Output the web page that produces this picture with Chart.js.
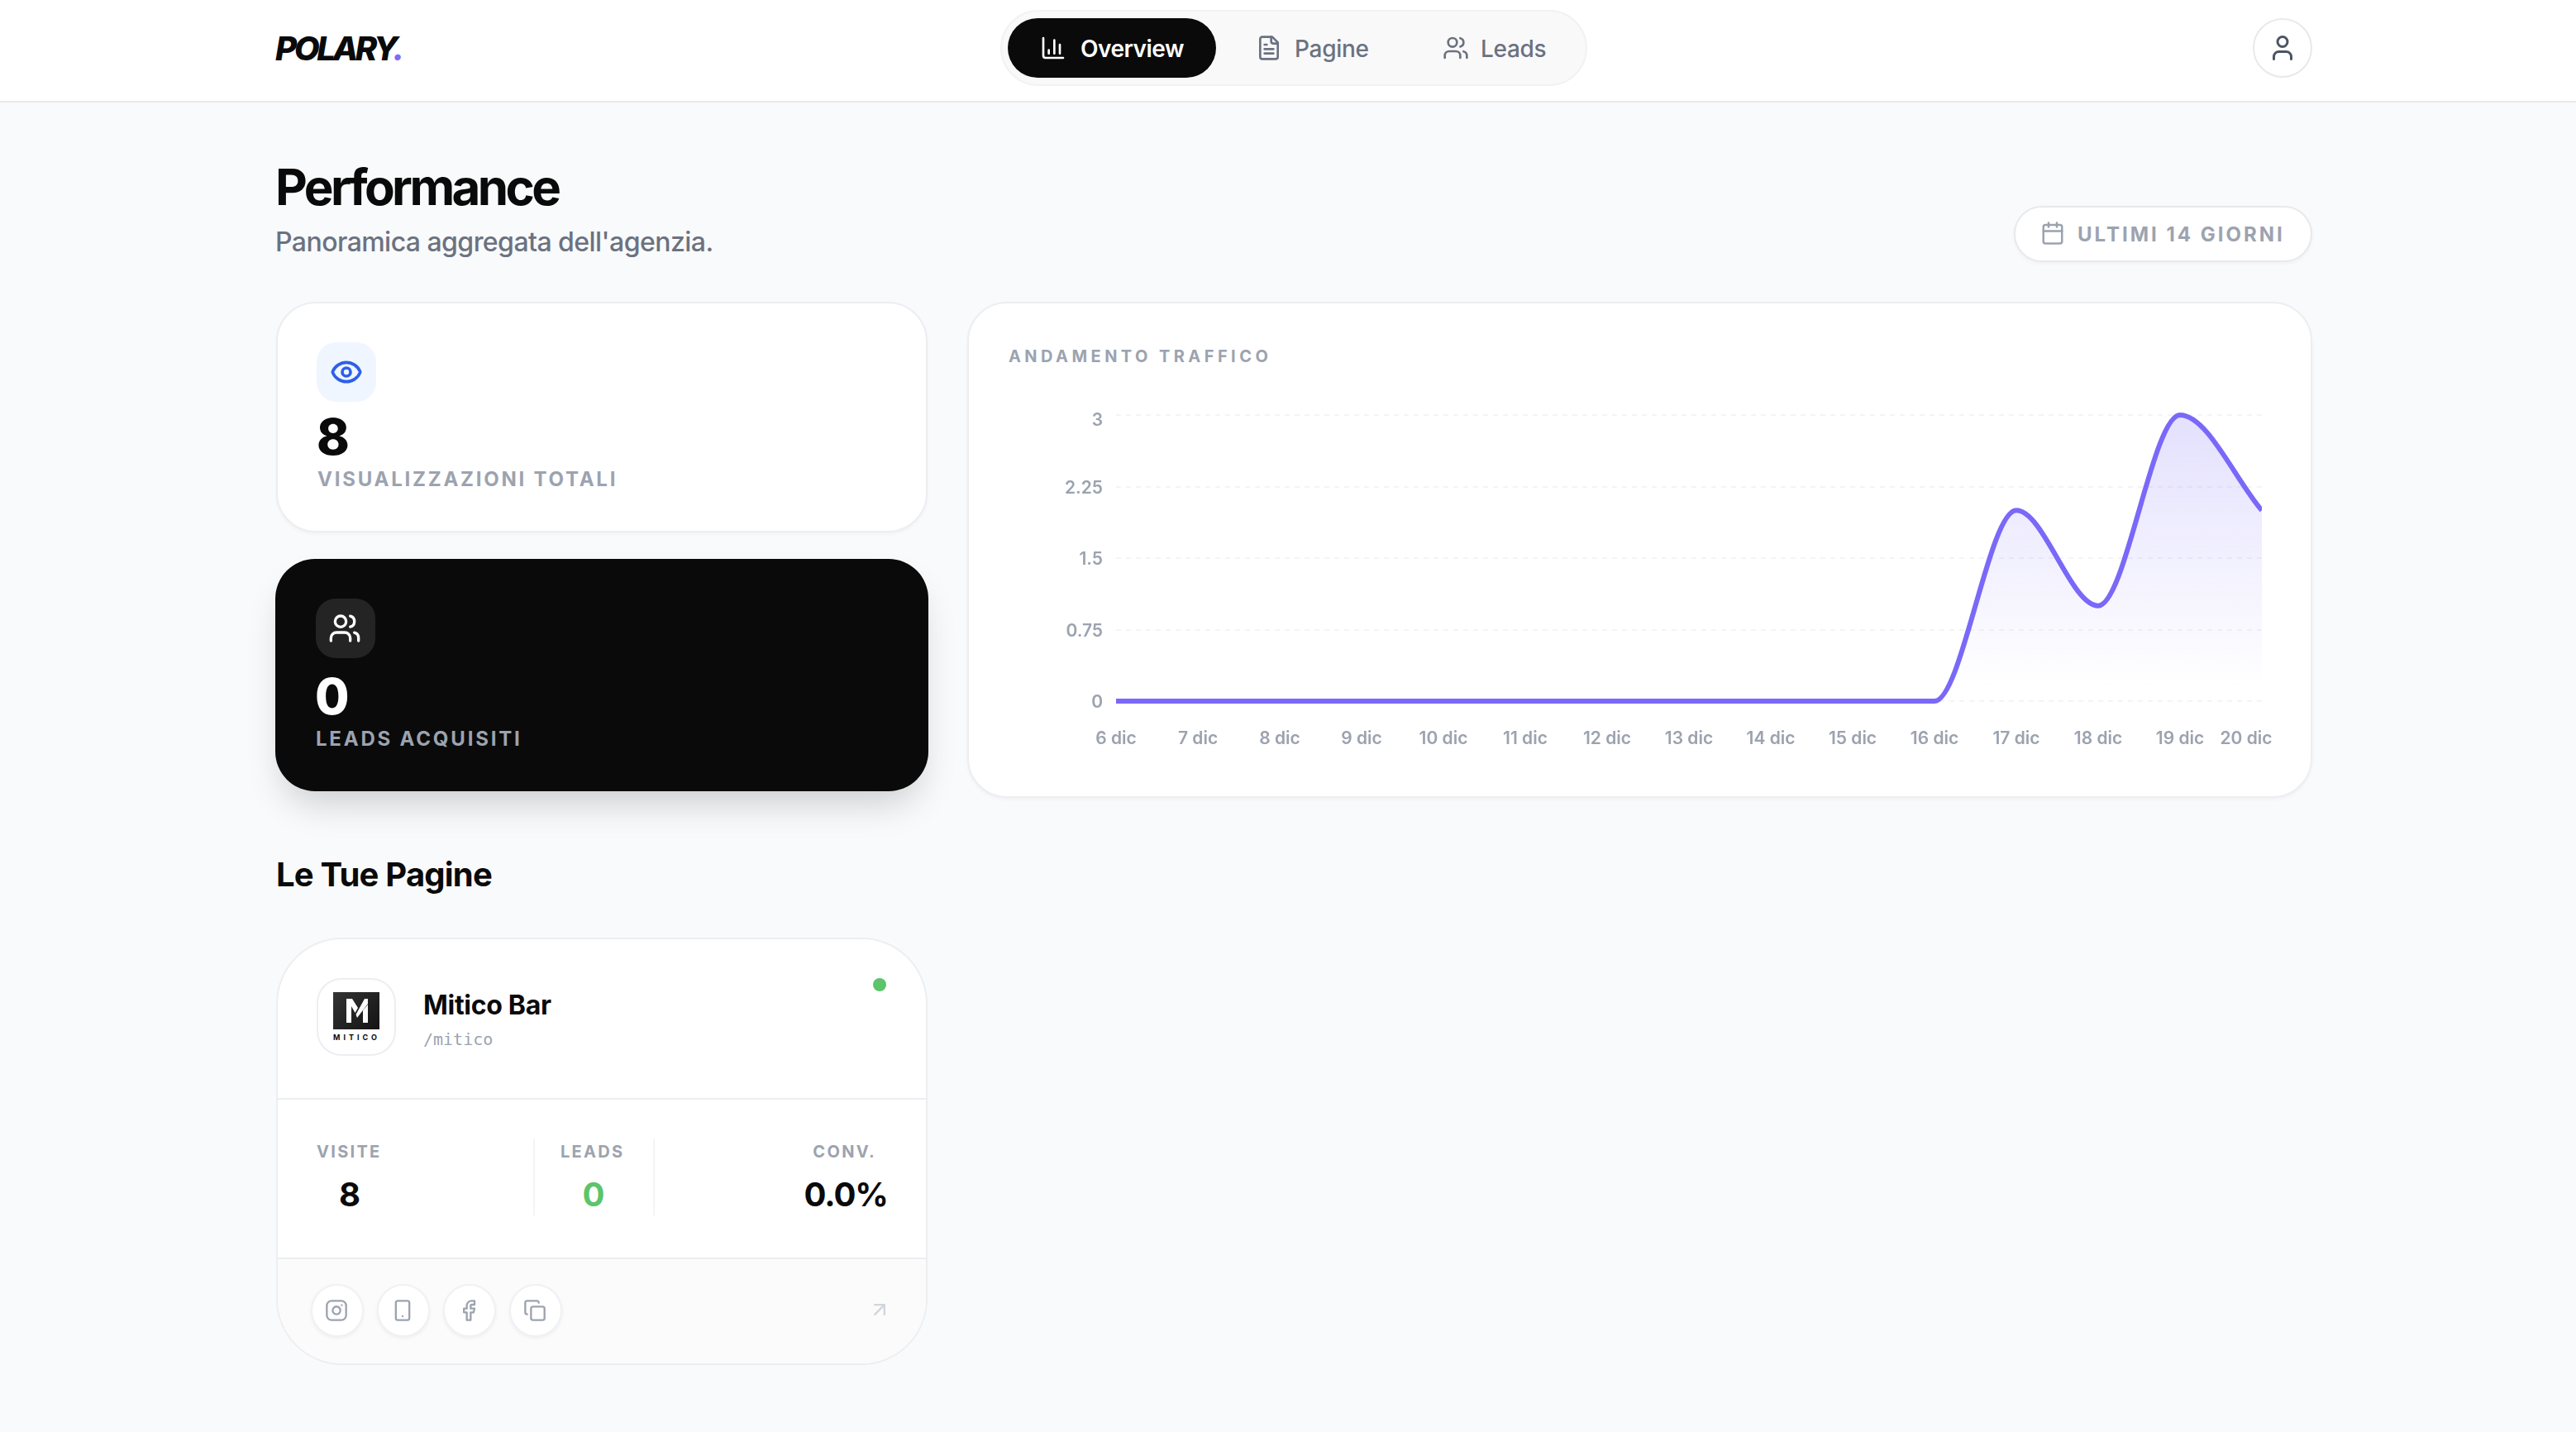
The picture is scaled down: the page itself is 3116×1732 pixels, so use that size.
<!DOCTYPE html>
<html lang="it">
<head>
<meta charset="utf-8">
<title>Polary - Performance</title>
<script src="https://cdn.jsdelivr.net/npm/chart.js@4/dist/chart.umd.min.js"></script>
<style>
    * { box-sizing: border-box; margin: 0; padding: 0; }
    html, body { width: 3116px; height: 1732px; overflow: hidden; background: #f9fafb; font-family: Inter, sans-serif; color: #0a0a0a; }
    .abs, .t { position: absolute; }
    .t { line-height: 1; white-space: nowrap; }
    .label { font-weight: 700; color: #9ca3af; }
    svg { position: absolute; fill: none; stroke: currentColor; stroke-linecap: round; stroke-linejoin: round; }
    .card { position: absolute; background: #fff; border: 2px solid #eceef1; box-shadow: 0 2px 4px rgba(0,0,0,.04); }
    .round { position: absolute; width: 64px; height: 64px; top: 1553px; border-radius: 50%; background: #fff; border: 2px solid #f0f1f3; box-shadow: 0 2px 4px rgba(0,0,0,.05); }
</style>
</head>
<body>
<!-- Header -->
<div class="abs" style="left:0;top:0;width:3116px;height:124px;background:#fff;border-bottom:2px solid #e8e9ec"></div>
<div class="t" style="left:333px;top:39px;font-size:40px;font-weight:800;font-style:italic;letter-spacing:-3.4px">POLARY<span style="color:#7c6bf8">.</span></div>

<div class="abs" style="left:1210px;top:12px;width:710px;height:92px;border-radius:46px;background:#f9f9fa;border:2px solid #f1f2f4"></div>
<div class="abs" style="left:1219px;top:22px;width:252px;height:72px;border-radius:36px;background:#0a0a0a"></div>
<svg style="left:1258px;top:42px;width:32px;height:32px;color:#fff;stroke-width:2" viewBox="0 0 24 24"><path d="M3 3v16a2 2 0 0 0 2 2h16"/><path d="M18 17V9"/><path d="M13 17V5"/><path d="M8 17v-3"/></svg>
<div class="t" style="left:1307px;top:45px;font-size:28px;font-weight:600;color:#fff;letter-spacing:-0.5px">Overview</div>
<svg style="left:1519px;top:42px;width:32px;height:32px;color:#6b7280;stroke-width:2" viewBox="0 0 24 24"><path d="M15 2H6a2 2 0 0 0-2 2v16a2 2 0 0 0 2 2h12a2 2 0 0 0 2-2V7Z"/><path d="M14 2v4a2 2 0 0 0 2 2h4"/><path d="M10 9H8"/><path d="M16 13H8"/><path d="M16 17H8"/></svg>
<div class="t" style="left:1566px;top:45px;font-size:28px;font-weight:500;color:#6b7280;letter-spacing:-0.3px">Pagine</div>
<svg style="left:1745px;top:42px;width:32px;height:32px;color:#6b7280;stroke-width:2" viewBox="0 0 24 24"><path d="M16 21v-2a4 4 0 0 0-4-4H6a4 4 0 0 0-4 4v2"/><circle cx="9" cy="7" r="4"/><path d="M22 21v-2a4 4 0 0 0-3-3.87"/><path d="M16 3.13a4 4 0 0 1 0 7.75"/></svg>
<div class="t" style="left:1791px;top:45px;font-size:28px;font-weight:500;color:#6b7280;letter-spacing:-0.3px">Leads</div>

<div class="abs" style="left:2725px;top:22px;width:72px;height:72px;border-radius:50%;background:#fff;border:2px solid #e8e9ec"></div>
<svg style="left:2743px;top:40px;width:36px;height:36px;color:#4b5563;stroke-width:2" viewBox="0 0 24 24"><path d="M19 21v-2a4 4 0 0 0-4-4H9a4 4 0 0 0-4 4v2"/><circle cx="12" cy="7" r="4"/></svg>

<!-- Page title -->
<div class="t" style="left:333px;top:196px;font-size:60px;font-weight:700;letter-spacing:-3.6px">Performance</div>
<div class="t" style="left:333px;top:277px;font-size:32px;font-weight:500;color:#6b7280;letter-spacing:-0.55px">Panoramica aggregata dell'agenzia.</div>

<div class="abs" style="left:2436px;top:249px;width:361px;height:68px;border-radius:34px;background:#fff;border:2px solid #e8e9ec;box-shadow:0 2px 4px rgba(0,0,0,.04)"></div>
<svg style="left:2468px;top:267px;width:30px;height:30px;color:#9ca3af;stroke-width:2" viewBox="0 0 24 24"><path d="M8 2v4"/><path d="M16 2v4"/><rect width="18" height="18" x="3" y="4" rx="2"/><path d="M3 10h18"/></svg>
<div class="t label" style="left:2513px;top:272px;font-size:24px;letter-spacing:3px">ULTIMI 14 GIORNI</div>

<!-- KPI cards -->
<div class="card" style="left:334px;top:365px;width:788px;height:279px;border-radius:48px"></div>
<div class="abs" style="left:383px;top:414px;width:72px;height:72px;border-radius:24px;background:#eff6ff"></div>
<svg style="left:399px;top:430px;width:40px;height:40px;color:#2f5fe8;stroke-width:2.2" viewBox="0 0 24 24"><path d="M2.062 12.348a1 1 0 0 1 0-.696 10.75 10.75 0 0 1 19.876 0 1 1 0 0 1 0 .696 10.750 10.750 0 0 1-19.876 0"/><circle cx="12" cy="12" r="3"/></svg>
<div class="t" style="left:383px;top:498px;font-size:60px;font-weight:800">8</div>
<div class="t label" style="left:384px;top:568px;font-size:24px;letter-spacing:2.76px">VISUALIZZAZIONI TOTALI</div>

<div class="abs" style="left:333px;top:676px;width:790px;height:281px;border-radius:48px;background:#0a0a0a;box-shadow:0 24px 44px -10px rgba(0,0,0,.18)"></div>
<div class="abs" style="left:382px;top:724px;width:72px;height:72px;border-radius:24px;background:#242424"></div>
<svg style="left:397px;top:740px;width:40px;height:40px;color:#fff;stroke-width:2" viewBox="0 0 24 24"><path d="M16 21v-2a4 4 0 0 0-4-4H6a4 4 0 0 0-4 4v2"/><circle cx="9" cy="7" r="4"/><path d="M22 21v-2a4 4 0 0 0-3-3.87"/><path d="M16 3.13a4 4 0 0 1 0 7.75"/></svg>
<div class="t" style="left:381px;top:812px;font-size:60px;font-weight:800;color:#fff">0</div>
<div class="t label" style="left:382px;top:882px;font-size:24px;letter-spacing:2.8px">LEADS ACQUISITI</div>

<!-- Traffic chart card -->
<div class="card" style="left:1170px;top:365px;width:1627px;height:600px;border-radius:48px"></div>
<div class="t label" style="left:1220px;top:421px;font-size:20px;letter-spacing:4.44px">ANDAMENTO TRAFFICO</div>
<div class="abs" style="left:1220px;top:480px;width:1550px;height:440px"><canvas id="trafficChart"></canvas></div>

<!-- Pages section -->
<div class="t" style="left:334px;top:1038px;font-size:40px;font-weight:700;letter-spacing:-0.8px">Le Tue Pagine</div>
<div class="card" style="left:334px;top:1134px;width:788px;height:517px;border-radius:80px;box-shadow:none;overflow:hidden">
    <div class="abs" style="left:0;top:385px;width:784px;height:130px;background:#fbfbfc;border-top:2px solid #eceef1"></div>
    <div class="abs" style="left:0;top:192px;width:784px;height:2px;background:#eceef1"></div>
</div>
<div class="abs" style="left:383px;top:1183px;width:96px;height:94px;border-radius:30px;background:#fff;border:2px solid #eceef1"></div>
<div class="abs" style="left:403px;top:1200px;width:56px;height:45px;background:linear-gradient(135deg,#333,#141414)"></div>
<svg style="left:419px;top:1208px;width:26px;height:29px;fill:#fff;stroke:none" viewBox="0 0 26 29"><path d="M0 0h7l7 11-3.500 6L6 9v20H0z"/><path d="M26 0v6L13 23l-1.500-4L22 0z"/><path d="M20 14l6-7v22h-6z"/></svg>
<div class="t" style="left:403px;top:1250px;font-size:9px;font-weight:700;letter-spacing:4px">MITICO</div>
<div class="t" style="left:512px;top:1200px;font-size:32px;font-weight:700;letter-spacing:-0.3px">Mitico Bar</div>
<div class="t" style="left:512px;top:1247px;font-size:20px;font-family:'DejaVu Sans Mono',monospace;color:#9ca3af">/mitico</div>
<div class="abs" style="left:1056px;top:1183px;width:16px;height:16px;border-radius:50%;background:#5cc46a"></div>

<div class="t label" style="left:383px;top:1383px;font-size:20px;letter-spacing:2.3px">VISITE</div>
<div class="t" style="left:423px;top:1425px;font-size:40px;font-weight:700;transform:translateX(-50%)">8</div>
<div class="abs" style="left:645px;top:1377px;width:2px;height:93px;background:#f3f4f6"></div>
<div class="t label" style="left:678px;top:1383px;font-size:20px;letter-spacing:2.3px">LEADS</div>
<div class="t" style="left:718px;top:1425px;font-size:40px;font-weight:700;color:#5cc46a;transform:translateX(-50%)">0</div>
<div class="abs" style="left:790px;top:1377px;width:2px;height:93px;background:#f3f4f6"></div>
<div class="t label" style="right:2056px;top:1383px;font-size:20px;letter-spacing:2.3px">CONV.</div>
<div class="t" style="right:2042px;top:1425px;font-size:40px;font-weight:700;letter-spacing:-1px">0.0%</div>

<div class="round" style="left:376px"></div>
<svg style="left:393px;top:1571px;width:28px;height:28px;color:#9ca3af;stroke-width:2" viewBox="0 0 24 24"><rect width="20" height="20" x="2" y="2" rx="5" ry="5"/><path d="M16 11.370A4 4 0 1 1 12.630 8 4 4 0 0 1 16 11.370z"/><line x1="17.500" x2="17.510" y1="6.500" y2="6.500"/></svg>
<div class="round" style="left:456px"></div>
<svg style="left:473px;top:1571px;width:28px;height:28px;color:#9ca3af;stroke-width:2" viewBox="0 0 24 24"><rect width="14" height="20" x="5" y="2" rx="2" ry="2"/><path d="M12 18h.01"/></svg>
<div class="round" style="left:536px"></div>
<svg style="left:553px;top:1571px;width:28px;height:28px;color:#9ca3af;stroke-width:2" viewBox="0 0 24 24"><path d="M18 2h-3a5 5 0 0 0-5 5v3H7v4h3v8h4v-8h3l1-4h-4V7a1 1 0 0 1 1-1h3z"/></svg>
<div class="round" style="left:616px"></div>
<svg style="left:633px;top:1571px;width:28px;height:28px;color:#9ca3af;stroke-width:2" viewBox="0 0 24 24"><rect width="14" height="14" x="8" y="8" rx="2" ry="2"/><path d="M4 16c-1.100 0-2-.9-2-2V4c0-1.100.9-2 2-2h10c1.100 0 2 .9 2 2"/></svg>
<svg style="left:1050px;top:1570px;width:28px;height:28px;color:#d1d5db;stroke-width:2" viewBox="0 0 24 24"><path d="M7 7h10v10"/><path d="M7 17 17 7"/></svg>

<script>
// Chart data
const days = ['6 dic', '7 dic', '8 dic', '9 dic', '10 dic', '11 dic', '12 dic', '13 dic', '14 dic', '15 dic', '16 dic', '17 dic', '18 dic', '19 dic', '20 dic'];
const visits = [0, 0, 0, 0, 0, 0, 0, 0, 0, 0, 0, 2, 1, 3, 2];
const yTicks = [0, 0.75, 1.5, 2.25, 3];

const tickFont = { family: 'Inter', size: 21, weight: '600' };

// Outer labels are pulled inside the plot, first y label down, last x label left
const edgeLabels = {
    id: 'edgeLabels',
    afterLayout(chart) {
        const xItems = chart.scales.x.getLabelItems();
        const yItems = chart.scales.y.getLabelItems();
        xItems[xItems.length - 1].options.translation[0] -= 19;
        yItems.forEach(item => { item.options.translation[1] += 2; });
        yItems[yItems.length - 1].options.translation[1] += 5;
    }
};

new Chart(document.getElementById('trafficChart'), {
    type: 'line',
    data: {
        labels: days,
        datasets: [{
            data: visits,
            borderColor: '#7a68f8',
            borderWidth: 6,
            borderCapStyle: 'butt',
            cubicInterpolationMode: 'monotone',
            pointRadius: 0,
            clip: { left: 0, right: 0, top: 6, bottom: 6 },
            fill: 'start',
            backgroundColor: (ctx) => {
                const area = ctx.chart.chartArea;
                if (!area) return 'transparent';
                const grad = ctx.chart.ctx.createLinearGradient(0, area.top, 0, area.bottom);
                grad.addColorStop(0.05, 'rgba(124, 108, 248, 0.2)');
                grad.addColorStop(0.95, 'rgba(124, 108, 248, 0)');
                return grad;
            }
        }]
    },
    options: {
        responsive: true,
        maintainAspectRatio: false,
        animation: false,
        layout: { autoPadding: false, padding: { top: 22, right: 34 } },
        plugins: { legend: { display: false }, tooltip: { enabled: false } },
        scales: {
            x: {
                grid: { display: false },
                border: { display: false },
                afterFit: (scale) => {
                    scale.height = 72;
                    scale.paddingLeft = 0;
                    scale.paddingRight = 0;
                },
                ticks: { color: '#9ca3af', font: tickFont, padding: 25, autoSkip: false, maxRotation: 0 }
            },
            y: {
                min: 0,
                max: 3,
                afterBuildTicks: (scale) => { scale.ticks = yTicks.map(value => ({ value })); },
                afterFit: (scale) => {
                    scale.width = 130;
                    scale.paddingTop = 0;
                    scale.paddingBottom = 0;
                },
                grid: { color: '#f3f4f6', lineWidth: 2, drawTicks: false },
                border: { display: false, dash: [6, 6] },
                ticks: { color: '#9ca3af', font: tickFont, padding: 16, callback: (v) => String(v) }
            }
        }
    },
    plugins: [edgeLabels]
});
</script>
</body>
</html>
